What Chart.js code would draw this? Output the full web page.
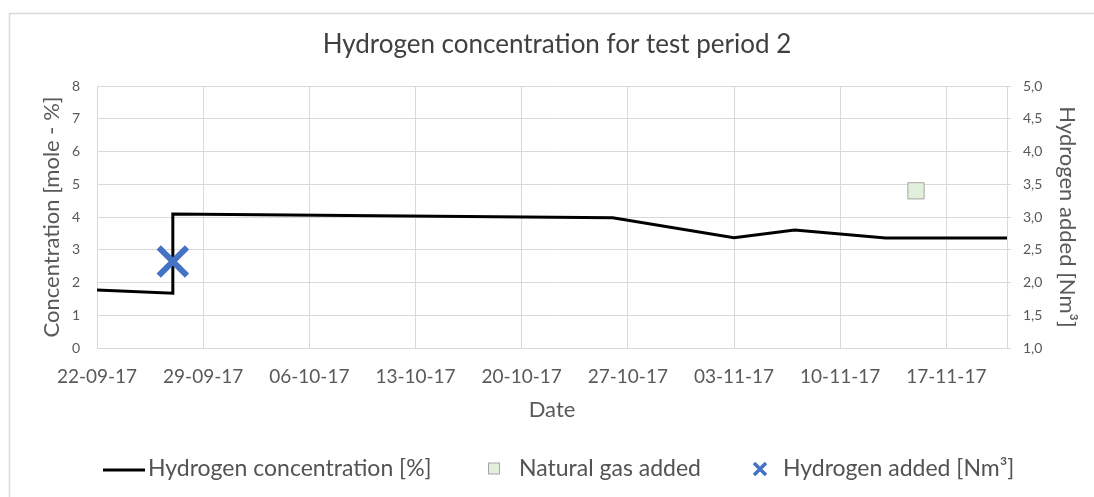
<!DOCTYPE html>
<html>
<head>
<meta charset="utf-8">
<title>Hydrogen concentration for test period 2</title>
<script src="https://cdn.jsdelivr.net/npm/chart.js@4.4.0/dist/chart.umd.min.js"></script>
<style>
  html, body { margin: 0; padding: 0; background: #fff; }
  #wrap { position: relative; width: 1094px; height: 497px; }
</style>
</head>
<body>
<div id="wrap"><canvas id="h2Chart"></canvas></div>
<script>
// dates as dd-mm-yy
const xStart = "22-09-17";
const xEnd = "21-11-17";
const xTickDates = ["22-09-17", "29-09-17", "06-10-17", "13-10-17", "20-10-17", "27-10-17", "03-11-17", "10-11-17", "17-11-17"];

const concDates = ["22-09-17", "27-09-17", "27-09-17", "26-10-17", "03-11-17", "07-11-17", "13-11-17", "21-11-17"];
const concValues = [1.77, 1.67, 4.09, 3.98, 3.37, 3.60, 3.36, 3.36];

const gasDates = ["15-11-17"];
const gasValues = [3.40];

const h2Dates = ["27-09-17"];
const h2Values = [2.32];

const FONT = "Lato, 'Open Sans', sans-serif";
const TEXT = "#595959";
const GRID = "#d9d9d9";

function parseDate(s) {
  const p = s.split("-");
  return new Date(2000 + Number(p[2]), Number(p[1]) - 1, Number(p[0]));
}
const t0 = parseDate(xStart);
function dayOf(s) {
  return Math.round((parseDate(s) - t0) / 86400000);
}
function fmtDay(v) {
  const d = new Date(t0.getTime() + v * 86400000 + 3600000 * 12);
  const dd = String(d.getDate()).padStart(2, "0");
  const mm = String(d.getMonth() + 1).padStart(2, "0");
  const yy = String(d.getFullYear() % 100).padStart(2, "0");
  return dd + "-" + mm + "-" + yy;
}
function toPoints(dates, values) {
  return dates.map((d, i) => ({ x: dayOf(d), y: values[i] }));
}

// white background + the thin frame Excel puts round the chart
const frame = {
  id: "frame",
  beforeDraw(chart) {
    const c = chart.ctx;
    c.save();
    c.fillStyle = "#fff";
    c.fillRect(0, 0, chart.width, chart.height);
    c.strokeStyle = "#d9d9d9";
    c.lineWidth = 1.5;
    c.strokeRect(9.5, 13.5, chart.width + 20, chart.height + 20);
    c.restore();
  }
};

// legend row at the bottom
const bottomLegend = {
  id: "bottomLegend",
  afterDraw(chart) {
    const c = chart.ctx;
    const ds = chart.data.datasets;
    const y = 469;
    c.save();
    c.font = "23px " + FONT;
    c.fillStyle = "#535353";
    c.textBaseline = "middle";
    c.textAlign = "left";

    c.strokeStyle = ds[2].borderColor;
    c.lineWidth = 3;
    c.beginPath();
    c.moveTo(103, y + 1);
    c.lineTo(145, y + 1);
    c.stroke();
    c.fillText(ds[2].label, 148, y);

    c.fillStyle = ds[1].backgroundColor;
    c.fillRect(488.5, y - 6, 11, 11);
    c.strokeStyle = ds[1].borderColor;
    c.lineWidth = 1;
    c.strokeRect(488.5, y - 6, 11, 11);
    c.fillStyle = "#535353";
    c.fillText(ds[1].label, 519, y);

    c.strokeStyle = ds[0].borderColor;
    c.lineWidth = 3.5;
    c.beginPath();
    c.moveTo(754, y - 6); c.lineTo(766, y + 6);
    c.moveTo(766, y - 6); c.lineTo(754, y + 6);
    c.stroke();
    c.fillText(ds[0].label, 783, y);
    c.restore();
  }
};

const ctx = document.getElementById("h2Chart").getContext("2d");
new Chart(ctx, {
  type: "scatter",
  data: {
    datasets: [
      {
        label: "Hydrogen added [Nm³]",
        data: toPoints(h2Dates, h2Values),
        yAxisID: "y1",
        pointStyle: "crossRot",
        pointRadius: 20,
        borderColor: "#4472c4",
        backgroundColor: "#4472c4",
        pointBorderWidth: 6,
        order: 0
      },
      {
        label: "Natural gas added",
        data: toPoints(gasDates, gasValues),
        yAxisID: "y1",
        pointStyle: "rect",
        pointRadius: 11.5,
        backgroundColor: "#e2efda",
        borderColor: "#a6a6a6",
        pointBorderWidth: 1,
        order: 1
      },
      {
        label: "Hydrogen concentration [%]",
        data: toPoints(concDates, concValues),
        yAxisID: "y",
        showLine: true,
        borderColor: "#000",
        backgroundColor: "#000",
        borderWidth: 3,
        pointRadius: 0,
        tension: 0,
        order: 2
      }
    ]
  },
  options: {
    responsive: true,
    maintainAspectRatio: false,
    animation: false,
    layout: { padding: { left: 20, right: 0, top: 0, bottom: 67 } },
    plugins: {
      legend: { display: false },
      tooltip: { enabled: false },
      title: {
        display: true,
        text: "Hydrogen concentration for test period 2",
        color: "#404040",
        font: { family: FONT, size: 26, weight: "normal" },
        padding: { top: 29.4, bottom: 25.4 }
      }
    },
    scales: {
      x: {
        type: "linear",
        min: dayOf(xStart),
        max: dayOf(xEnd),
        afterFit(s) { s.height = 82; },
        afterBuildTicks(s) { s.ticks = xTickDates.map(d => ({ value: dayOf(d) })); },
        grid: { color: GRID, drawTicks: false },
        border: { color: GRID },
        ticks: {
          color: TEXT,
          font: { family: FONT, size: 19 },
          padding: 17.6,
          maxRotation: 0,
          autoSkip: false,
          callback: v => fmtDay(v)
        },
        title: {
          display: true,
          text: "Date",
          color: TEXT,
          font: { family: FONT, size: 22 },
          padding: { top: 0, bottom: 6.8 }
        }
      },
      y: {
        position: "left",
        min: 0,
        max: 8,
        afterFit(s) { s.width = 77; },
        grid: { color: GRID, drawTicks: false },
        border: { color: GRID },
        ticks: {
          stepSize: 1,
          color: TEXT,
          font: { family: FONT, size: 14 },
          padding: 17
        },
        title: {
          display: true,
          text: "Concentration [mole - %]",
          color: TEXT,
          font: { family: FONT, size: 22 },
          padding: { top: 18.8, bottom: 0 }
        }
      },
      y1: {
        position: "right",
        min: 1,
        max: 5,
        afterFit(s) { s.width = 87; },
        grid: { color: GRID, drawOnChartArea: false, tickLength: 4 },
        border: { color: GRID },
        ticks: {
          stepSize: 0.5,
          color: TEXT,
          font: { family: FONT, size: 14 },
          padding: 12,
          callback: v => v.toFixed(1).replace(".", ",")
        },
        title: {
          display: true,
          text: "Hydrogen added [Nm³]",
          color: TEXT,
          font: { family: FONT, size: 22 },
          padding: { top: 13.8, bottom: 0 }
        }
      }
    }
  },
  plugins: [frame, bottomLegend]
});
</script>
</body>
</html>
